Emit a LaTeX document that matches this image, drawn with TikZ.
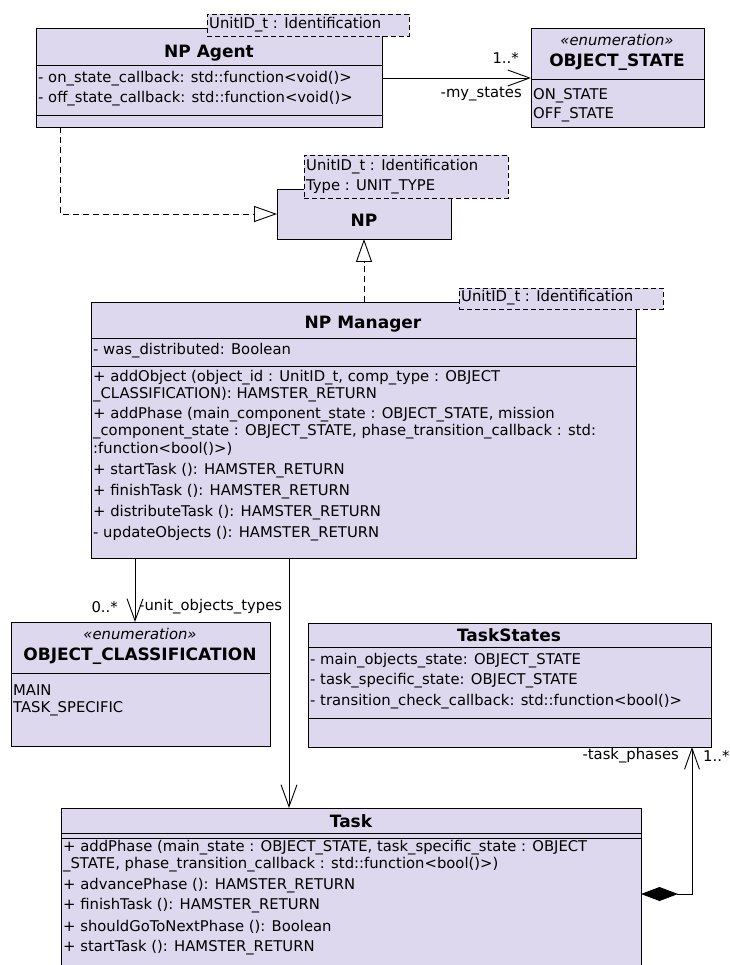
\documentclass[tikz,border=0pt]{standalone}
\usepackage{fontspec}
\setmainfont{DejaVu Sans}
\usetikzlibrary{arrows.meta}
\definecolor{umlfill}{RGB}{221,216,238}
\newcommand{\fs}{\fontsize{14.8}{17}\selectfont}
\newcommand{\fstitle}{\fontsize{17}{20}\selectfont\bfseries}

\begin{document}
\begin{tikzpicture}[x=1pt,y=-1pt,
  classbox/.style={draw=black, fill=umlfill, line width=0.9pt, inner sep=0pt, outer sep=0pt, anchor=north west},
  tmplbox/.style={draw=black, fill=umlfill, line width=0.9pt, dash pattern=on 5pt off 3pt, inner sep=0pt, outer sep=0pt, anchor=north west},
  sep/.style={line width=0.9pt},
  member/.style={anchor=west, inner sep=0pt, font=\fs},
  title/.style={anchor=center, inner sep=0pt, font=\fstitle},
  stereo/.style={anchor=center, inner sep=0pt, font=\fs\itshape},
  role/.style={inner sep=0pt, font=\fs},
  assoc/.style={line width=0.9pt, -{Straight Barb[length=22pt, width=16pt, line width=0.9pt]}},
  realize/.style={line width=0.9pt, dash pattern=on 6pt off 4pt, -{Triangle[open, length=23pt, width=16pt, line width=0.9pt, fill=white]}},
  compose/.style={line width=0.9pt, {Diamond[length=37pt, width=14pt, fill=black]}-{Straight Barb[length=21pt, width=15pt, line width=0.9pt]}}
]
\useasboundingbox (0,0) rectangle (729,965);
\clip (0,0) rectangle (729,965);
\fill[white] (0,0) rectangle (729,965);

% ---------- NP Agent ----------
\node[classbox, minimum width=346pt, minimum height=99pt] (agent) at (36,28) {};
\draw[sep] (36,65) -- (382,65);
\draw[sep] (36,115) -- (382,115);
\node[title] at (209,53) {NP Agent};
\node[member] at (38,79) {- on\_state\_callback: std::function<void()>};
\node[member] at (38,99) {- off\_state\_callback: std::function<void()>};
\node[tmplbox, minimum width=202pt, minimum height=22pt] (agenttmpl) at (207,14) {};
\node[member] at (209,25) {UnitID\_t : Identification};

% ---------- OBJECT_STATE ----------
\node[classbox, minimum width=173pt, minimum height=99pt] (objstate) at (531,28) {};
\draw[sep] (531,79) -- (704,79);
\node[stereo] at (617,40) {«enumeration»};
\node[title] at (617,62) {OBJECT\_STATE};
\node[member] at (533,96) {ON\_STATE};
\node[member] at (533,115) {OFF\_STATE};

% ---------- NP ----------
\node[classbox, minimum width=174pt, minimum height=50pt] (np) at (277,189) {};
\node[title] at (364,220) {NP};
\node[tmplbox, minimum width=204pt, minimum height=43pt] (nptmpl) at (304,155) {};
\node[member] at (306,167) {UnitID\_t : Identification};
\node[member] at (306,187) {Type : UNIT\_TYPE};

% ---------- NP Manager ----------
\node[classbox, minimum width=545pt, minimum height=256pt] (mgr) at (91,302) {};
\draw[sep] (91,338) -- (636,338);
\draw[sep] (91,366) -- (636,366);
\node[title] at (363,324) {NP Manager};
\node[member] at (93,351) {- was\_distributed: Boolean};
\node[member] at (93,378) {+ addObject (object\_id : UnitID\_t, comp\_type : OBJECT};
\node[member] at (93,395) {\_CLASSIFICATION): HAMSTER\_RETURN};
\node[member] at (93,415) {+ addPhase (main\_component\_state : OBJECT\_STATE, mission};
\node[member] at (93,432) {\_component\_state : OBJECT\_STATE, phase\_transition\_callback : std:};
\node[member] at (93,449) {:function<bool()>)};
\node[member] at (93,471) {+ startTask (): HAMSTER\_RETURN};
\node[member] at (93,492) {+ finishTask (): HAMSTER\_RETURN};
\node[member] at (93,513) {+ distributeTask (): HAMSTER\_RETURN};
\node[member] at (93,534) {- updateObjects (): HAMSTER\_RETURN};
\node[tmplbox, minimum width=204pt, minimum height=21pt] (mgrtmpl) at (459,288) {};
\node[member] at (461,298) {UnitID\_t : Identification};

% ---------- OBJECT_CLASSIFICATION ----------
\node[classbox, minimum width=259pt, minimum height=124pt] (objclass) at (11,622) {};
\draw[sep] (11,673) -- (270,673);
\node[stereo] at (140,634) {«enumeration»};
\node[title] at (140,656) {OBJECT\_CLASSIFICATION};
\node[member] at (13,690) {MAIN};
\node[member] at (13,709) {TASK\_SPECIFIC};

% ---------- TaskStates ----------
\node[classbox, minimum width=403pt, minimum height=124pt] (states) at (308,623) {};
\draw[sep] (308,647) -- (711,647);
\draw[sep] (308,718) -- (711,718);
\node[title] at (509,635) {TaskStates};
\node[member] at (310,661) {- main\_objects\_state: OBJECT\_STATE};
\node[member] at (310,681) {- task\_specific\_state: OBJECT\_STATE};
\node[member] at (310,702) {- transition\_check\_callback: std::function<bool()>};

% ---------- Task ----------
\node[classbox, minimum width=580pt, minimum height=200pt] (task) at (61,808) {};
\draw[sep] (61,833) -- (641,833);
\draw[sep] (61,838) -- (641,838);
\node[title] at (351,821) {Task};
\node[member] at (63,848) {+ addPhase (main\_state : OBJECT\_STATE, task\_specific\_state : OBJECT};
\node[member] at (63,865) {\_STATE, phase\_transition\_callback : std::function<bool()>)};
\node[member] at (63,886) {+ advancePhase (): HAMSTER\_RETURN};
\node[member] at (63,906) {+ finishTask (): HAMSTER\_RETURN};
\node[member] at (63,927) {+ shouldGoToNextPhase (): Boolean};
\node[member] at (63,948) {+ startTask (): HAMSTER\_RETURN};

% ---------- connectors ----------
\draw[assoc] (agent.east |- 0,78) -- (objstate.west |- 0,78);
\node[role, anchor=east] at (519,58) {1..*};
\node[role, anchor=east] at (522,94) {-my\_states};

\draw[realize] (agent.south -| 60,0) |- (np.west);
\draw[realize] (mgr.north -| np.south) -- (np.south);

\draw[assoc] (mgr.south -| 135,0) -- (objclass.north -| 135,0);
\node[role, anchor=east] at (118,607) {0..*};
\node[role, anchor=west] at (139,607) {-unit\_objects\_types};

\draw[assoc] (mgr.south -| 289,0) -- (task.north -| 289,0);

\draw[compose] (task.east |- 0,894) -| (states.south -| 692,0);
\node[role, anchor=east] at (679,756) {-task\_phases};
\node[role, anchor=west] at (703,756) {1..*};
\end{tikzpicture}
\end{document}
